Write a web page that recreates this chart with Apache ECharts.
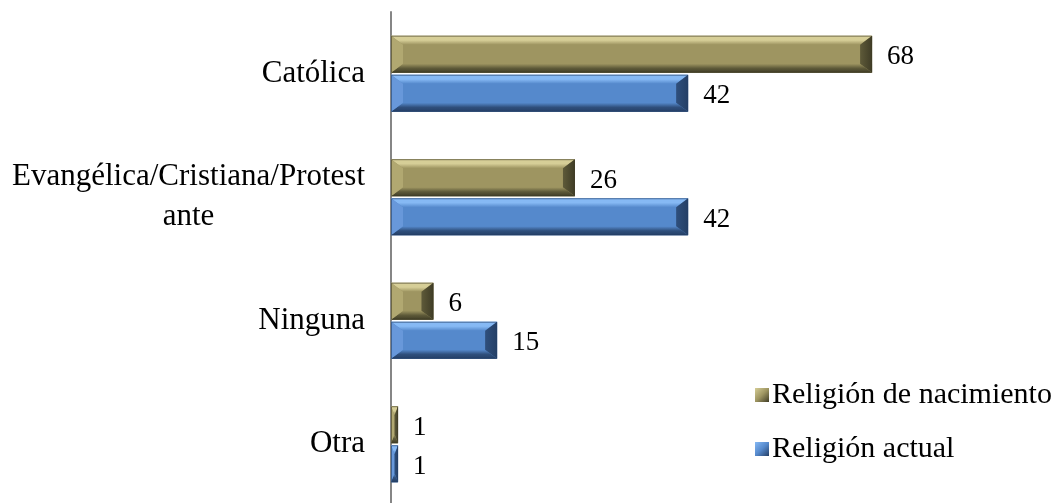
<!DOCTYPE html>
<html>
<head>
<meta charset="utf-8">
<script src="https://cdn.jsdelivr.net/npm/echarts@6/dist/echarts.min.js"></script>
<style>
  html, body { margin: 0; padding: 0; background: #fff; }
  #chart { width: 1064px; height: 503px; }
</style>
</head>
<body>
<div id="chart"></div>
<script>
// datos
var categories = ['Católica', 'Evangélica/Cristiana/Protestante', 'Ninguna', 'Otra']
var seriesNames = ['Religión de nacimiento', 'Religión actual']
var nacimiento = [68, 26, 6, 1]
var actual = [42, 42, 15, 1]

var serif = '"Liberation Serif", "Times New Roman", serif'

// colores del bisel (claro, base, oscuro, lado der., lado izq.)
var palettes = [
  { top: '#d6ce97', base: '#9e9561', low: '#5e5a39', right: '#3f3c26', left: '#b1a871' },
  { top: '#86b9f4', base: '#5589cc', low: '#2f4f7c', right: '#243f66', left: '#6898da' }
]

function vgrad(stops) {
  return {
    type: 'linear', x: 0, y: 0, x2: 0, y2: 1,
    colorStops: stops.map(function (c, i) { return { offset: i / (stops.length - 1), color: c } })
  }
}

function renderBevel(params, api) {
  var s = params.seriesIndex
  var pal = palettes[s]
  var val = api.value(0)
  var cat = api.value(1)
  var p0 = api.coord([0, cat])
  var p1 = api.coord([val, cat])
  var band = api.size([0, 1])[1]
  var h = band * 0.3
  var gap = 2
  var y0 = s === 0 ? p0[1] - gap / 2 - h : p0[1] + gap / 2
  var y1 = y0 + h
  var x0 = p0[0]
  var x1 = p1[0]
  var w = x1 - x0
  var bx = Math.min(12, w / 2)
  var by = Math.min(9, h / 2)
  return {
    type: 'group',
    children: [
      { type: 'rect', shape: { x: x0, y: y0, width: w, height: h },
        style: { fill: vgrad([pal.base, pal.base]) } },
      { type: 'polygon', shape: { points: [[x0, y0], [x1, y0], [x1 - bx, y0 + by], [x0 + bx, y0 + by]] },
        style: { fill: vgrad([pal.top, pal.top, pal.base]) } },
      { type: 'polygon', shape: { points: [[x0, y1], [x1, y1], [x1 - bx, y1 - by], [x0 + bx, y1 - by]] },
        style: { fill: vgrad([pal.base, pal.low, pal.right]) } },
      { type: 'polygon', shape: { points: [[x0, y0], [x0 + bx, y0 + by], [x0 + bx, y1 - by], [x0, y1]] },
        style: { fill: pal.left } },
      { type: 'polygon', shape: { points: [[x1, y0], [x1 - bx, y0 + by], [x1 - bx, y1 - by], [x1, y1]] },
        style: { fill: { type: 'linear', x: 0, y: 0, x2: 1, y2: 0,
          colorStops: [{ offset: 0, color: pal.low }, { offset: 1, color: pal.right }] } } },
      { type: 'rect', shape: { x: x0 + 0.5, y: y0 + 0.5, width: Math.max(w - 1, 0), height: h - 1 },
        style: { fill: null, stroke: pal.right, lineWidth: 1, opacity: 0.6 } },
      { type: 'text', x: x1 + 15, y: (y0 + y1) / 2 + 3,
        style: { text: String(val), fill: '#000', font: '27px ' + serif,
          align: 'left', verticalAlign: 'middle', textAlign: 'left', textVerticalAlign: 'middle' } }
    ]
  }
}

function legendIcon(pal) {
  return {
    type: 'linear', x: 0, y: 0, x2: 1, y2: 1,
    colorStops: [{ offset: 0, color: pal.top }, { offset: 0.5, color: pal.base }, { offset: 1, color: pal.right }]
  }
}

var chart = echarts.init(document.getElementById('chart'))
chart.setOption({
  animation: false,
  backgroundColor: '#fff',
  grid: { left: 391, top: 12, width: 566, height: 494, outerBoundsMode: 'none' },
  legend: {
    orient: 'vertical',
    left: 750,
    top: 375,
    itemWidth: 14,
    itemHeight: 14,
    itemGap: 24,
    textStyle: { fontFamily: serif, fontSize: 30, color: '#000', padding: [0, 0, 0, -2] },
    data: [
      { name: seriesNames[0], icon: 'rect', itemStyle: { color: legendIcon(palettes[0]) } },
      { name: seriesNames[1], icon: 'rect', itemStyle: { color: legendIcon(palettes[1]) } }
    ]
  },
  xAxis: {
    type: 'value',
    min: 0,
    max: 80,
    show: false
  },
  yAxis: {
    type: 'category',
    inverse: true,
    data: categories,
    axisLine: { show: true, lineStyle: { color: '#868686', width: 2 } },
    axisTick: { show: false },
    splitLine: { show: false },
    axisLabel: {
      margin: 26,
      formatter: function (v) {
        var lines = v === 'Evangélica/Cristiana/Protestante' ? ['Evangélica/Cristiana/Protest', 'ante'] : [v]
        return lines.map(function (l) { return '{c|' + l + '}' }).join('\n')
      },
      rich: {
        c: { align: 'center', fontFamily: serif, fontSize: 31, color: '#000', lineHeight: 40 }
      }
    }
  },
  series: [
    {
      name: seriesNames[0],
      type: 'custom',
      renderItem: renderBevel,
      itemStyle: { color: palettes[0].base },
      encode: { x: 0, y: 1 },
      data: nacimiento.map(function (v, i) { return [v, i] })
    },
    {
      name: seriesNames[1],
      type: 'custom',
      renderItem: renderBevel,
      itemStyle: { color: palettes[1].base },
      encode: { x: 0, y: 1 },
      data: actual.map(function (v, i) { return [v, i] })
    }
  ]
})
</script>
</body>
</html>
